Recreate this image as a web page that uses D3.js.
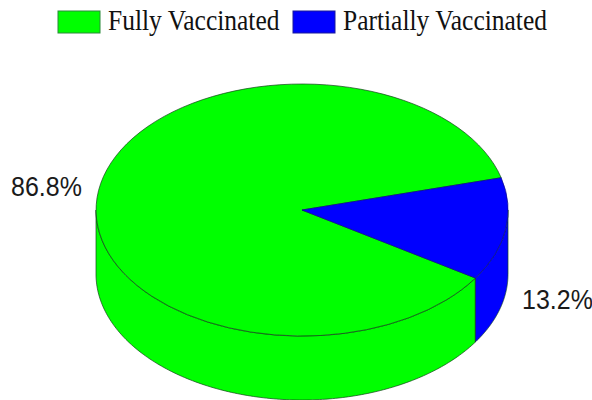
<!DOCTYPE html>
<html><head><meta charset="utf-8">
<script src="https://cdnjs.cloudflare.com/ajax/libs/d3/7.8.5/d3.min.js"></script>
<style>html,body{margin:0;padding:0;background:#fff;overflow:hidden}svg{display:block}</style>
</head><body><svg id="c" width="592" height="400"></svg>
<script>
const categories = ["Fully Vaccinated", "Partially Vaccinated"];
const shares = [86.8, 13.2];
const shareLabels = ["86.8%", "13.2%"];
const colours = ["#00ff00", "#0000ff"];

const W = 592, H = 400;
const cx = 302, cy = 210, rx = 206, ry = 126, depth = 64;
const firstAngle = 122.7 * Math.PI / 180;
const svg = d3.select("#c");
const edge = "#12421a";

const pie = d3.pie().sort(null).value(d => d).startAngle(firstAngle).endAngle(firstAngle + 2 * Math.PI);
const arcs = pie(shares);

const px = a => cx + rx * Math.sin(a);
const py = a => cy - ry * Math.cos(a);
const line = d3.line().x(d => d[0]).y(d => d[1]);

// walls: only the front half of the rim (90deg to 270deg, clockwise from north) is visible
const frontA = Math.PI / 2, frontB = 3 * Math.PI / 2;
function wall(a0, a1) {
  const out = [];
  for (let k = -1; k <= 1; k++) {
    const s = Math.max(a0, frontA + 2 * Math.PI * k), e = Math.min(a1, frontB + 2 * Math.PI * k);
    if (e > s) out.push([s, e]);
  }
  return out;
}
arcs.forEach((d, i) => {
  wall(d.startAngle, d.endAngle).forEach(([s, e]) => {
    const n = 160;
    const ang = d3.range(n + 1).map(j => s + (e - s) * j / n);
    const top = ang.map(a => [px(a), py(a)]);
    const bottom = ang.slice().reverse().map(a => [px(a), py(a) + depth]);
    svg.append("path").attr("d", line(top.concat(bottom)) + "Z")
      .attr("fill", colours[i]).attr("stroke", edge).attr("stroke-width", 0.7);
  });
});

// top face
const arcGen = d3.arc().innerRadius(0).outerRadius(1);
svg.append("g").attr("transform", `translate(${cx},${cy}) scale(${rx},${ry})`)
  .selectAll("path").data(arcs).join("path")
  .attr("d", arcGen)
  .attr("fill", (d, i) => colours[i])
  .attr("stroke", (d, i) => i ? "#0a0a8a" : edge)
  .attr("stroke-width", 0.7)
  .attr("vector-effect", "non-scaling-stroke");

// value labels (the reference is stretched slightly in height)
const labelX = [11, 522], labelY = [196, 309];
svg.selectAll("text.v").data(shareLabels).join("text").attr("class", "v")
  .attr("transform", (d, i) => `translate(${labelX[i]},${labelY[i]}) scale(1,1.1)`)
  .attr("font-family", "Liberation Sans").attr("font-size", 25).attr("fill", "#1a1a1a")
  .text(d => d);

// legend
const swatchX = [58, 293], textX = [108, 343];
categories.forEach((c, i) => {
  svg.append("rect").attr("x", swatchX[i]).attr("y", 11).attr("width", 42).attr("height", 22)
    .attr("fill", colours[i]).attr("stroke", i ? "#1a1a9a" : "#2a8a3a").attr("stroke-width", 1);
  svg.append("text").attr("transform", `translate(${textX[i]},29.5) scale(0.98,1.12)`)
    .attr("font-family", "Liberation Serif").attr("font-size", 26).attr("fill", "#111")
    .text(c);
});
</script></body></html>
